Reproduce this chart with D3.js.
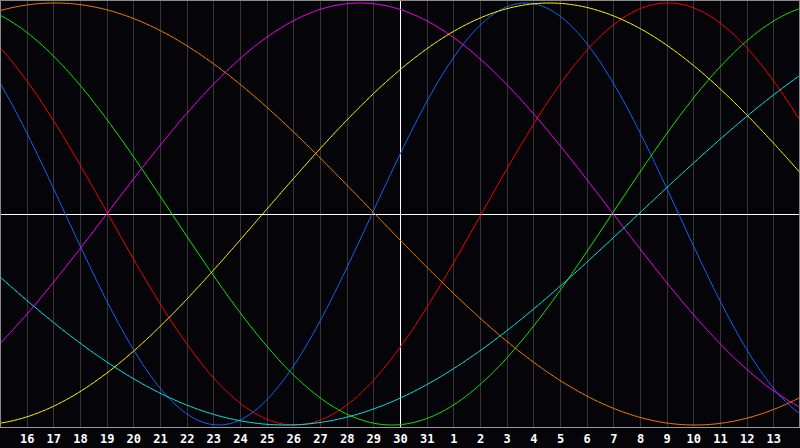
<!DOCTYPE html>
<html>
<head>
<meta charset="utf-8">
<script src="https://cdn.jsdelivr.net/npm/d3@7"></script>
<style>
  html, body { margin: 0; padding: 0; background: #050408; }
  svg { display: block; }
</style>
</head>
<body>
<div id="chart"></div>
<script>
// day labels along the bottom, one per grid line
var dayLabels = [16, 17, 18, 19, 20, 21, 22, 23, 24, 25, 26, 27, 28, 29, 30, 31,
  1, 2, 3, 4, 5, 6, 7, 8, 9, 10, 11, 12, 13];
var todayLabel = 30;

// cycles: length in days and cycle day at the left edge of the chart
var cycleNames = ["physical", "emotional", "intellectual", "intuitive", "aesthetic", "awareness", "spiritual"];
var cyclePeriods = [23, 28, 33, 38, 43, 48, 53];
var cycleStart = [9.05, 9.95, 10.05, 34.0, 33.15, 9.94, 29.05];
var cycleColors = ["#1466ff", "#ff0000", "#11ee00", "#ff00ff", "#ffff00", "#ff8000", "#00eeee"];

var width = 800,
  height = 448;
var plotBottom = 427;
var daysShown = 30;

var svg = d3.select("#chart")
  .append("svg")
  .attr("width", width)
  .attr("height", height);

svg.append("rect")
  .attr("width", width)
  .attr("height", height)
  .attr("fill", "#050408");

var x = d3.scaleLinear().domain([0, daysShown]).range([0, width]);
var y = d3.scaleLinear().domain([-1, 1]).range([425, 3]);

function px(v) { return Math.round(v) + 0.5; }

// vertical day grid
svg.append("g")
  .selectAll("line")
  .data(dayLabels)
  .enter().append("line")
  .attr("x1", function (d, i) { return px(x(i + 1)); })
  .attr("x2", function (d, i) { return px(x(i + 1)); })
  .attr("y1", 0)
  .attr("y2", plotBottom)
  .attr("stroke", function (d) { return d === todayLabel ? "#ffffff" : "#363636"; })
  .attr("stroke-width", 1)
  .attr("shape-rendering", "crispEdges");

// zero line
svg.append("line")
  .attr("x1", 0)
  .attr("x2", width)
  .attr("y1", px(y(0)))
  .attr("y2", px(y(0)))
  .attr("stroke", "#ffffff")
  .attr("shape-rendering", "crispEdges");

// frame
svg.append("path")
  .attr("d", "M0.5," + plotBottom + "V0.5H" + (width - 0.5) + "V" + plotBottom)
  .attr("fill", "none")
  .attr("stroke", "#8a8a8a")
  .attr("shape-rendering", "crispEdges");

svg.append("line")
  .attr("x1", 0)
  .attr("x2", width)
  .attr("y1", plotBottom + 0.5)
  .attr("y2", plotBottom + 0.5)
  .attr("stroke", "#9a9a9a")
  .attr("shape-rendering", "crispEdges");

// cycle curves
var line = d3.line()
  .x(function (d) { return x(d[0]); })
  .y(function (d) { return y(d[1]); });

var steps = d3.range(0, daysShown + 0.001, 0.05);

var curves = cyclePeriods.map(function (p, i) {
  return steps.map(function (t) {
    return [t, Math.sin(2 * Math.PI * (cycleStart[i] + t) / p)];
  });
});

var plot = svg.append("g");
plot.append("clipPath").attr("id", "clip")
  .append("rect").attr("x", 1).attr("y", 1).attr("width", width - 2).attr("height", plotBottom - 1);

plot.attr("clip-path", "url(#clip)")
  .selectAll("path")
  .data(curves)
  .enter().append("path")
  .attr("class", function (d, i) { return "cycle " + cycleNames[i]; })
  .attr("d", line)
  .attr("fill", "none")
  .attr("stroke", function (d, i) { return cycleColors[i]; })
  .attr("stroke-width", 1);

// day labels
var xAxis = d3.axisBottom(x)
  .tickValues(d3.range(1, dayLabels.length + 1))
  .tickFormat(function (d) { return dayLabels[d - 1]; })
  .tickSize(0)
  .tickPadding(0);

var axisG = svg.append("g")
  .attr("transform", "translate(0," + plotBottom + ")")
  .call(xAxis);

axisG.select(".domain").remove();
axisG.selectAll("text")
  .attr("fill", "#ffffff")
  .attr("y", 16)
  .attr("dy", 0)
  .style("font-family", "'DejaVu Sans Mono', monospace")
  .style("font-weight", "bold")
  .style("font-size", "12px");
</script>
</body>
</html>
